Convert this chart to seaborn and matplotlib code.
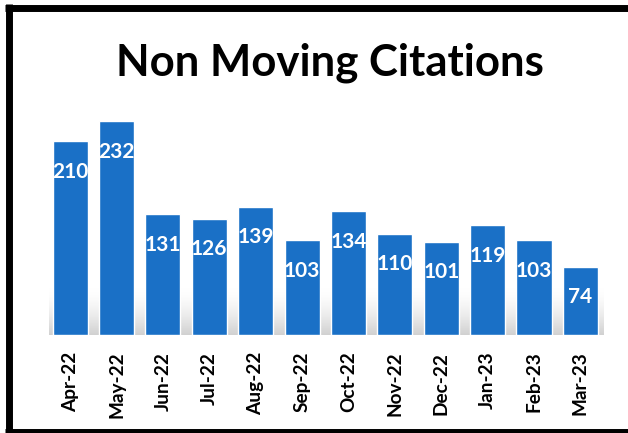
import numpy as np
import matplotlib
matplotlib.use("Agg")
import matplotlib.pyplot as plt
from matplotlib.lines import Line2D
import seaborn as sns

months = ["Apr-22", "May-22", "Jun-22", "Jul-22", "Aug-22", "Sep-22",
          "Oct-22", "Nov-22", "Dec-22", "Jan-23", "Feb-23", "Mar-23"]
citations = [210, 232, 131, 126, 139, 103, 134, 110, 101, 119, 103, 74]

title = "Non Moving Citations"
bar_color = "#1a70c6"

sns.set_theme(style="white")
plt.rcParams["font.family"] = ["Lato", "DejaVu Sans"]

fig = plt.figure(figsize=(6.28, 4.33), dpi=100)
fig.patch.set_facecolor("white")
ax = fig.add_axes([0.0748, 0.2263, 0.8863, 0.5326])

sns.barplot(x=months, y=citations, color=bar_color, saturation=1,
            width=0.755, ax=ax, zorder=3)

# soft grey floor shadow behind the bars, strongest at the base
grad = np.linspace(1, 0, 100).reshape(-1, 1) ** 0.8
cmap = matplotlib.colors.LinearSegmentedColormap.from_list(
    "floor", [(1, 1, 1, 0), (0.74, 0.74, 0.74, 0.7)])
ax.imshow(grad, extent=(-0.45, 11.75, 0, 50), origin="lower",
          aspect="auto", cmap=cmap, zorder=1, interpolation="bilinear")
ax.set_xlim(-0.5, 11.5)
ax.set_ylim(0, 250)

for i, v in enumerate(citations):
    ax.annotate(str(v), xy=(i, v), xytext=(0, -22), textcoords="offset points",
                ha="center", va="center", color="white", fontsize=15,
                fontweight="bold", zorder=5)

sns.despine(ax=ax, left=True, bottom=True)
ax.set_yticks([])
ax.set_xlabel("")
ax.set_ylabel("")
ax.tick_params(axis="x", length=0, pad=12)
for lbl in ax.get_xticklabels():
    lbl.set_rotation(90)
    lbl.set_fontweight("bold")
    lbl.set_fontsize(13.7)
    lbl.set_color("black")
ax.set_facecolor("none")

fig.text(330 / 628, 1 - 63 / 433, title, ha="center", va="center",
         fontsize=31.5, fontweight="bold", color="black")

# frame around the panel (left, top and bottom edges)
W, H = 628.0, 433.0
lw = 5.0
fig.add_artist(Line2D([8.5 / W, 8.5 / W], [1 - 4 / H, 1 - 432 / H],
                      transform=fig.transFigure, color="black", lw=lw,
                      solid_capstyle="butt"))
fig.add_artist(Line2D([5 / W, 1.0], [1 - 7.5 / H, 1 - 7.5 / H],
                      transform=fig.transFigure, color="black", lw=lw,
                      solid_capstyle="butt"))
fig.add_artist(Line2D([5 / W, 1.0], [1 - 431.5 / H, 1 - 431.5 / H],
                      transform=fig.transFigure, color="black", lw=lw,
                      solid_capstyle="butt"))

fig.savefig("out.png", dpi=100)
